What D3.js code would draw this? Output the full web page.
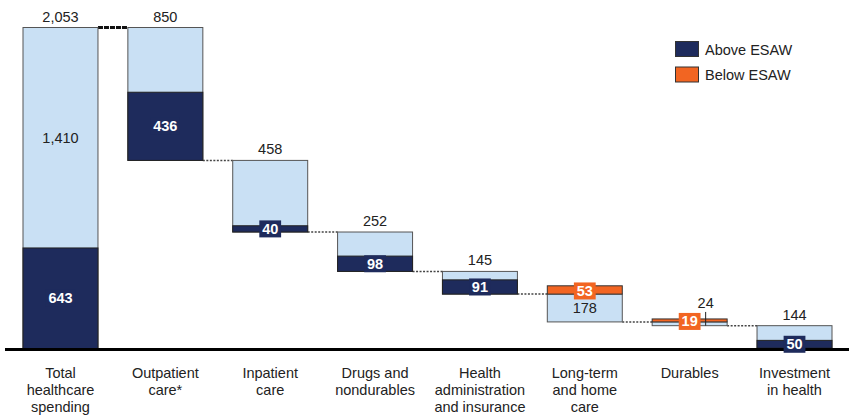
<!DOCTYPE html>
<html>
<head>
<meta charset="utf-8">
<script src="https://cdn.jsdelivr.net/npm/d3@7"></script>
<style>
  html, body { margin: 0; padding: 0; background: #fff; }
  svg { display: block; }
  text { font-family: "Liberation Sans", Arial, Helvetica, sans-serif; }
</style>
</head>
<body>
<svg id="chart" width="849" height="417"></svg>
<script>
// ---- data ----
const categories = [
  ["Total", "healthcare", "spending"],
  ["Outpatient", "care*"],
  ["Inpatient", "care"],
  ["Drugs and", "nondurables"],
  ["Health", "administration", "and insurance"],
  ["Long-term", "and home", "care"],
  ["Durables"],
  ["Investment", "in health"]
];
const totals = [2053, 850, 458, 252, 145, 178, 24, 144];
const aboveESAW = [643, 436, 40, 98, 91, 0, 0, 50];
const belowESAW = [0, 0, 0, 0, 0, 53, 19, 0];
const totalLabelMode = ["top", "top", "top", "top", "top", "inside", "leader", "top"];
const legendItems = ["Above ESAW", "Below ESAW"];

// ---- styles ----
const LIGHT = "#c9e0f4", NAVY = "#1e2b5c", ORANGE = "#f26522", EDGE = "#555";
const fmt = d3.format(",");

const svg = d3.select("#chart");
const keys = categories.map((c, i) => "c" + i);

const x = d3.scaleBand().domain(keys).range([23, 832]).paddingInner(0.285).paddingOuter(0);
const y = d3.scaleLinear().domain([0, 2053]).range([348.5, 27.5]);

// waterfall geometry
const bars = [];
let level = 0;
totals.forEach((t, i) => {
  let top, bottom;
  if (i === 0) { bottom = 0; top = t; level = t; }
  else { top = level; bottom = level - t; level = bottom; }
  bars.push({ i, key: keys[i], total: t, top, bottom, above: aboveESAW[i], below: belowESAW[i] });
});

// connectors
for (let i = 0; i < bars.length - 1; i++) {
  const lv = i === 0 ? bars[0].top : bars[i].bottom;
  svg.append("line")
    .attr("x1", x(keys[i]) + x.bandwidth())
    .attr("x2", x(keys[i + 1]))
    .attr("y1", y(lv)).attr("y2", y(lv))
    .attr("stroke", i === 0 ? "#111" : "#444")
    .attr("stroke-width", i === 0 ? 3 : 1.5)
    .attr("stroke-dasharray", i === 0 ? "5,1" : "2,1.5");
}

const g = svg.append("g");
bars.forEach(b => {
  const x0 = x(b.key), w = x.bandwidth();
  // light segment (whole bar)
  g.append("rect").attr("x", x0).attr("width", w)
    .attr("y", y(b.top)).attr("height", y(b.bottom) - y(b.top))
    .attr("fill", LIGHT).attr("stroke", EDGE).attr("stroke-width", 1);
  // dark (above ESAW) at bottom
  if (b.above > 0) {
    g.append("rect").attr("x", x0).attr("width", w)
      .attr("y", y(b.bottom + b.above)).attr("height", y(b.bottom) - y(b.bottom + b.above))
      .attr("fill", NAVY).attr("stroke", "#222").attr("stroke-width", 1);
  }
  // orange (below ESAW) above the bar top
  if (b.below > 0) {
    g.append("rect").attr("x", x0).attr("width", w)
      .attr("y", y(b.top + b.below)).attr("height", y(b.top) - y(b.top + b.below))
      .attr("fill", ORANGE).attr("stroke", "#333").attr("stroke-width", 1);
  }
});

// baseline
svg.append("line").attr("x1", 5).attr("x2", 849)
  .attr("y1", y(0) + 1).attr("y2", y(0) + 1)
  .attr("stroke", "#000").attr("stroke-width", 3);

// labels
const lab = svg.append("g");
function boxLabel(cx, cy, txt, fill) {
  const bw = txt.length * 7.4 + 7;
  lab.append("rect").attr("x", cx - bw / 2).attr("y", cy - 8.5)
    .attr("width", bw).attr("height", 17).attr("fill", fill);
  lab.append("text").attr("x", cx).attr("y", cy + 5)
    .attr("text-anchor", "middle").attr("fill", "#fff")
    .attr("font-weight", "bold").attr("font-size", 14.5).text(txt);
}
bars.forEach(b => {
  const cx = x(b.key) + x.bandwidth() / 2;
  // total label
  if (totalLabelMode[b.i] === "top") {
    lab.append("text").attr("x", cx).attr("y", y(b.top + b.below) - 6)
      .attr("text-anchor", "middle").attr("fill", "#222").attr("font-size", 14.5)
      .text(fmt(b.total));
  } else if (totalLabelMode[b.i] === "inside") {
    const cy = (y(b.top) + y(b.bottom)) / 2;
    lab.append("text").attr("x", cx).attr("y", cy + 5)
      .attr("text-anchor", "middle").attr("fill", "#222").attr("font-size", 14.5)
      .text(fmt(b.total));
  } else if (totalLabelMode[b.i] === "leader") {
    const lx = cx + 16;
    lab.append("line").attr("x1", lx).attr("x2", lx)
      .attr("y1", y(b.top + b.below) - 7).attr("y2", y(b.bottom))
      .attr("stroke", "#222").attr("stroke-width", 1);
    lab.append("text").attr("x", lx).attr("y", y(b.top + b.below) - 11)
      .attr("text-anchor", "middle").attr("fill", "#222").attr("font-size", 14.5)
      .text(fmt(b.total));
  }
  // light segment label for the total bar
  if (b.i === 0) {
    const lightVal = b.total - b.above;
    const cy = (y(b.top) + y(b.bottom + b.above)) / 2;
    lab.append("text").attr("x", cx).attr("y", cy + 5)
      .attr("text-anchor", "middle").attr("fill", "#222").attr("font-size", 14.5)
      .text(fmt(lightVal));
  }
  if (b.above > 0) {
    const cy = (y(b.bottom) + y(b.bottom + b.above)) / 2;
    boxLabel(cx, cy, fmt(b.above), NAVY);
  }
  if (b.below > 0) {
    const cy = (y(b.top) + y(b.top + b.below)) / 2 + 1;
    boxLabel(cx, cy, fmt(b.below), ORANGE);
  }
});

// category labels
categories.forEach((lines, i) => {
  const cx = x(keys[i]) + x.bandwidth() / 2;
  const t = svg.append("text").attr("text-anchor", "middle")
    .attr("fill", "#222").attr("font-size", 14.5);
  lines.forEach((ln, j) => {
    t.append("tspan").attr("x", cx).attr("y", 377.5 + j * 17).text(ln);
  });
});

// legend
const leg = svg.append("g");
[NAVY, ORANGE].forEach((c, i) => {
  leg.append("rect").attr("x", 675.5).attr("y", 41.5 + i * 25.5)
    .attr("width", 23).attr("height", 15)
    .attr("fill", c).attr("stroke", "#333").attr("stroke-width", 1);
  leg.append("text").attr("x", 705).attr("y", 54.5 + i * 25)
    .attr("fill", "#222").attr("font-size", 14.5).text(legendItems[i]);
});
</script>
</body>
</html>
